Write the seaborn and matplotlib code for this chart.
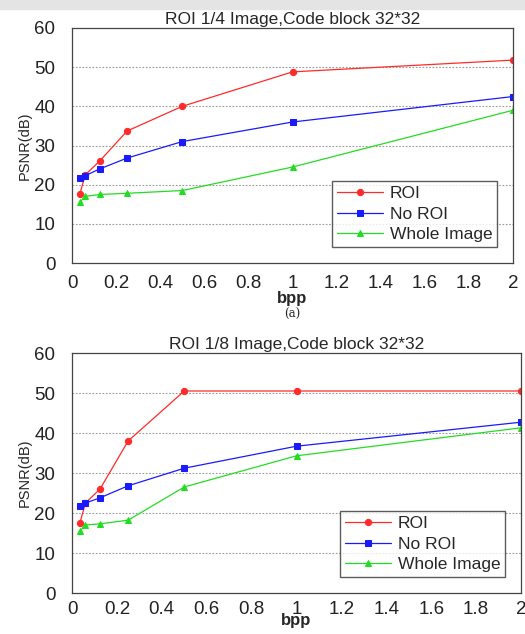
import matplotlib
matplotlib.use("Agg")
import matplotlib.pyplot as plt
import seaborn as sns
import pandas as pd
from matplotlib.ticker import MultipleLocator

bpp = [0.035, 0.06, 0.125, 0.25, 0.5, 1, 2]

# (a) ROI 1/4 image
roi_a = [17.5, 22.5, 26.0, 33.7, 40.0, 48.8, 51.8]
noroi_a = [21.8, 22.3, 24.0, 26.8, 31.0, 36.0, 42.5]
whole_a = [15.5, 17.0, 17.5, 17.8, 18.5, 24.5, 39.0]

# (b) ROI 1/8 image
roi_b = [17.5, 22.5, 26.0, 38.0, 50.5, 50.5, 50.5]
noroi_b = [21.8, 22.5, 23.8, 26.8, 31.2, 36.7, 42.7]
whole_b = [15.5, 17.0, 17.3, 18.2, 26.5, 34.3, 41.3]

series = ["ROI", "No ROI", "Whole Image"]
colors = ["#ff2a2a", "#1a1aff", "#22dd22"]
markers = ["o", "s", "^"]
xticks = [0, 0.2, 0.4, 0.6, 0.8, 1, 1.2, 1.4, 1.6, 1.8, 2]
xlabels = ["0", "0.2", "0.4", "0.6", "0.8", "1", "1.2", "1.4", "1.6", "1.8", "2"]

sns.set_style("white")
plt.rcParams["font.family"] = ["Liberation Sans", "DejaVu Sans"]

fig = plt.figure(figsize=(5.25, 6.34), dpi=100)
# grey band from the scanned page
fig.patches.append(plt.Rectangle((0, 1 - 9 / 634), 1, 9 / 634, transform=fig.transFigure,
                                 color="#e4e4e4", zorder=0))


def draw(ax, values, title, tpad, xpad):
    df = pd.DataFrame({"bpp": bpp * 3,
                       "psnr": sum(values, []),
                       "kind": [s for s in series for _ in bpp]})
    for s, c, m in zip(series, colors, markers):
        sub = df[df["kind"] == s]
        sns.lineplot(data=sub, x="bpp", y="psnr", ax=ax, color=c, marker=m,
                     markersize=4.5, markeredgecolor=c, linewidth=0.9, label=s)
    ax.set_xlim(0, 2)
    ax.set_ylim(0, 60)
    ax.set_xticks(xticks)
    ax.set_xticklabels(xlabels)
    ax.xaxis.set_minor_locator(MultipleLocator(0.1))
    ax.yaxis.set_major_locator(MultipleLocator(10))
    ax.yaxis.set_minor_locator(MultipleLocator(5))
    ax.tick_params(which="both", direction="in", labelsize=13.5, length=4, width=0.8,
                   labelcolor="#222222")
    ax.tick_params(which="minor", length=2.5)
    ax.tick_params(axis="x", pad=tpad)
    ax.tick_params(axis="y", pad=12)
    for y in [10, 20, 30, 40, 50]:
        ax.axhline(y, color="#999999", linestyle=(0, (1.5, 1.5)), linewidth=0.8, zorder=0)
    for sp in ax.spines.values():
        sp.set_color("#444444")
        sp.set_linewidth(0.9)
    ax.set_title(title, fontsize=12.5, pad=3)
    ax.set_xlabel("bpp", fontsize=12, fontweight="bold", labelpad=xpad)
    ax.set_ylabel("PSNR(dB)", fontsize=10.5, labelpad=2)
    leg = ax.legend(loc="lower right", fontsize=12.5, frameon=True, fancybox=False,
                    edgecolor="#333333", handlelength=2.6, borderpad=0.3,
                    labelspacing=0.3, handletextpad=0.4, borderaxespad=0.9)
    leg.get_frame().set_linewidth(1.0)


ax1 = fig.add_axes([72 / 525, 1 - 263 / 634, 441 / 525, 235 / 634])
draw(ax1, [roi_a, noroi_a, whole_a], "ROI 1/4 Image,Code block 32*32", 9, -1)
fig.text(292 / 525, 1 - 314 / 634, "(a)", fontsize=8.5, family="DejaVu Serif",
         ha="center", va="center")

ax2 = fig.add_axes([72 / 525, 1 - 593 / 634, 449 / 525, 240 / 634])
draw(ax2, [roi_b, noroi_b, whole_b], "ROI 1/8 Image,Code block 32*32", 6, -4)

fig.savefig("out.png", dpi=100)
